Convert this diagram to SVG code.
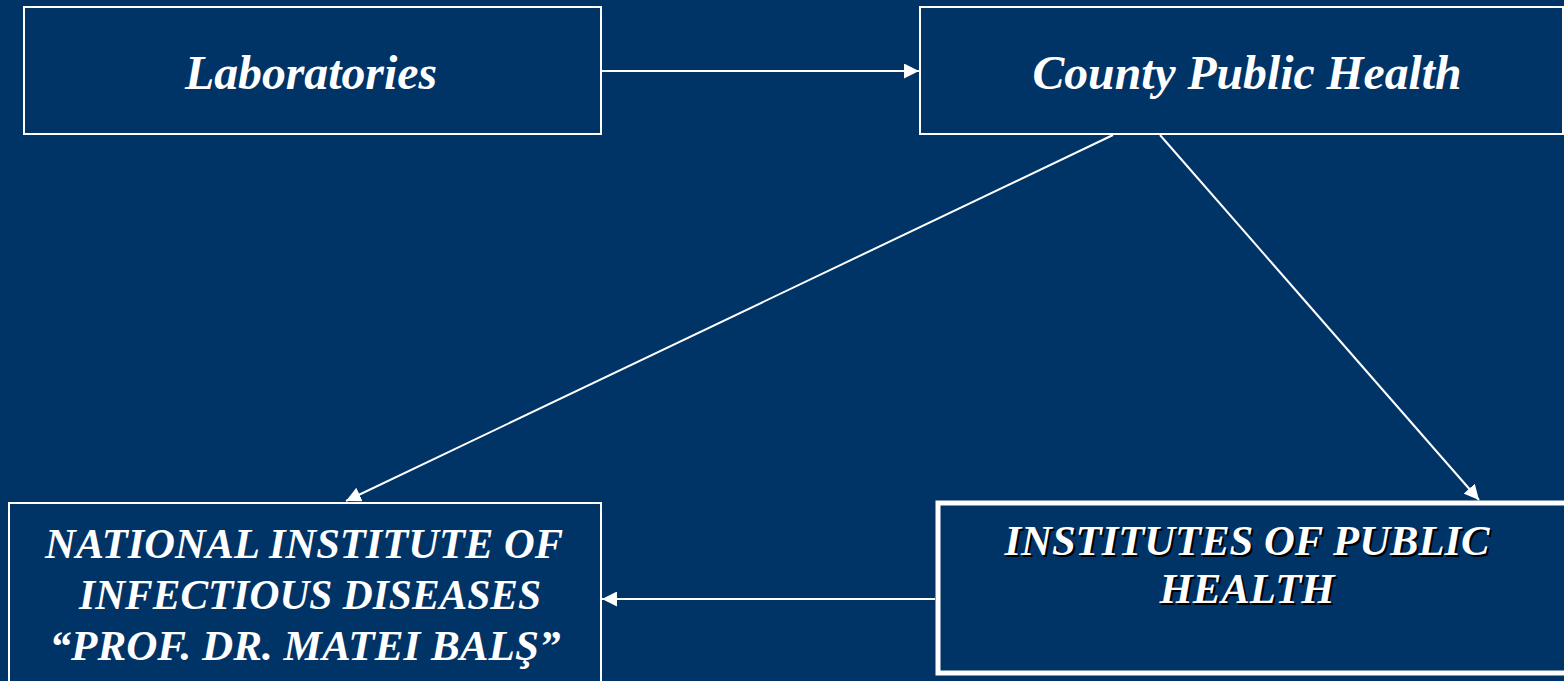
<svg xmlns="http://www.w3.org/2000/svg" width="1564" height="681" viewBox="0 0 1564 681">
<defs>
<style>
.bg{fill:#003366}
.box{fill:#003366;stroke:#ffffff;stroke-width:2}
.thick{fill:#003366;stroke:#ffffff;stroke-width:5}
.t{font-family:"Liberation Serif","Times New Roman",serif;font-weight:bold;font-style:italic;fill:#ffffff;text-anchor:middle}
.sh{fill:#000000}
.c{stroke:#ffffff;stroke-width:2;fill:none;marker-end:url(#ah)}
</style>
<marker id="ah" viewBox="0 0 10 10" refX="10" refY="5" markerWidth="7.5" markerHeight="7.5" markerUnits="strokeWidth" orient="auto">
<path d="M0,0 L10,5 L0,10 z" fill="#ffffff"/>
</marker>
</defs>
<rect class="bg" x="0" y="0" width="1564" height="681"/>
<g id="connectors">
<line class="c" x1="602" y1="71" x2="919" y2="71"/>
<line class="c" x1="1113" y1="135" x2="346" y2="501"/>
<line class="c" x1="1160" y1="135" x2="1479" y2="500"/>
<line class="c" x1="935" y1="599" x2="602" y2="599"/>
</g>
<g id="laboratories">
<rect class="box" x="24" y="7" width="577" height="127"/>
<text class="t" x="311" y="89" font-size="48" textLength="252" lengthAdjust="spacingAndGlyphs">Laboratories</text>
</g>
<g id="county">
<rect class="box" x="920" y="7" width="643" height="127"/>
<text class="t" x="1247" y="89" font-size="48" textLength="429" lengthAdjust="spacingAndGlyphs">County Public Health</text>
</g>
<g id="national">
<rect class="box" x="9" y="503" width="592" height="190"/>
<text class="t" x="304" y="558" font-size="43" textLength="518" lengthAdjust="spacingAndGlyphs">NATIONAL INSTITUTE OF</text>
<text class="t" x="310" y="609" font-size="43" textLength="462" lengthAdjust="spacingAndGlyphs">INFECTIOUS DISEASES</text>
<text class="t" x="305" y="660" font-size="43" textLength="511" lengthAdjust="spacingAndGlyphs">“PROF. DR. MATEI BALŞ”</text>
</g>
<g id="institutes">
<rect class="thick" x="938" y="503" width="632" height="170"/>
<text class="t sh" x="1249" y="557" font-size="43" textLength="485" lengthAdjust="spacingAndGlyphs">INSTITUTES OF PUBLIC</text>
<text class="t sh" x="1249" y="605" font-size="43" textLength="175" lengthAdjust="spacingAndGlyphs">HEALTH</text>
<text class="t" x="1247" y="555" font-size="43" textLength="485" lengthAdjust="spacingAndGlyphs">INSTITUTES OF PUBLIC</text>
<text class="t" x="1247" y="603" font-size="43" textLength="175" lengthAdjust="spacingAndGlyphs">HEALTH</text>
</g>
</svg>
